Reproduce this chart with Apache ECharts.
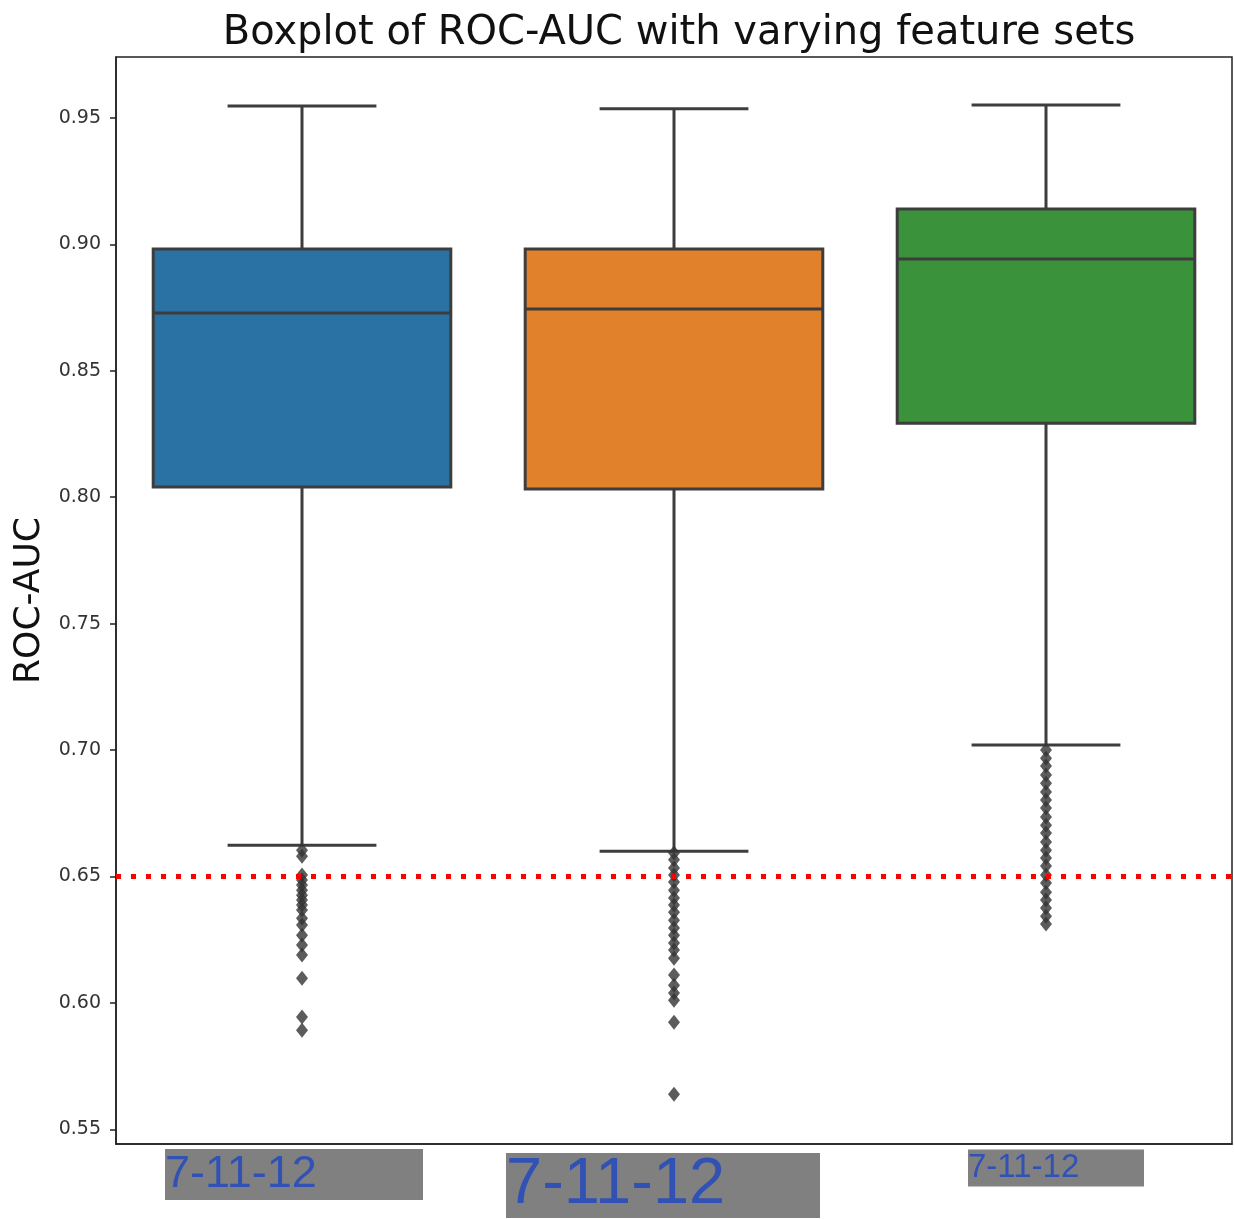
<!DOCTYPE html>
<html>
<head>
<meta charset="utf-8">
<title>Boxplot of ROC-AUC</title>
<script src="https://cdn.jsdelivr.net/npm/echarts@6/dist/echarts.min.js"></script>
<style>
  html, body { margin: 0; padding: 0; background: #ffffff; }
  #chart { width: 1234px; height: 1219px; }
</style>
</head>
<body>
<div id="chart"></div>
<script>
// Feature-set labels along the x axis
const categories = ['7-11-12', '7-11-12', '7-11-12'];

// Five-number summaries of ROC-AUC per feature set
const whiskerLow  = [0.6624, 0.6600, 0.7020];
const quartile1   = [0.8040, 0.8032, 0.8293];
const medians     = [0.8729, 0.8744, 0.8942];
const quartile3   = [0.8982, 0.8982, 0.9140];
const whiskerHigh = [0.9547, 0.9536, 0.9551];

// Outlying runs below the lower whisker
const outliersSet1 = [0.6604, 0.6580, 0.6506, 0.6486, 0.6466, 0.6446, 0.6426, 0.6407,
  0.6387, 0.6367, 0.6335, 0.6308, 0.6268, 0.6229, 0.6189, 0.6098, 0.5944, 0.5892];
const outliersSet2 = [0.6593, 0.6566, 0.6534, 0.6506, 0.6478, 0.6446, 0.6415, 0.6387,
  0.6359, 0.6327, 0.6296, 0.6268, 0.6237, 0.6209, 0.6177, 0.6110, 0.6070, 0.6039,
  0.6011, 0.5924, 0.5639];
const outliersSet3 = [0.7000, 0.6968, 0.6937, 0.6901, 0.6869, 0.6834, 0.6802, 0.6771,
  0.6735, 0.6703, 0.6672, 0.6636, 0.6604, 0.6573, 0.6541, 0.6506, 0.6474, 0.6438,
  0.6407, 0.6375, 0.6343, 0.6312];

// Reference threshold
const threshold = 0.65;

// Y tick values
const yTicks = [0.55, 0.60, 0.65, 0.70, 0.75, 0.80, 0.85, 0.90, 0.95];

const boxColors = ['#2a72a3', '#e1812c', '#3a923a'];
const edgeColor = '#3d3d3d';

const boxData = categories.map((c, i) => [i, whiskerLow[i], quartile1[i], medians[i], quartile3[i], whiskerHigh[i]]);
const outlierData = [];
[outliersSet1, outliersSet2, outliersSet3].forEach((set, i) => set.forEach(v => outlierData.push([i, v])));

const gridLeft = 116, gridRight = 2, gridTop = 57, gridBottom = 75;

function renderBox(params, api) {
  const x = api.value(0);
  const pLow = api.coord([x, api.value(1)]);
  const pQ1 = api.coord([x, api.value(2)]);
  const pMed = api.coord([x, api.value(3)]);
  const pQ3 = api.coord([x, api.value(4)]);
  const pHigh = api.coord([x, api.value(5)]);
  const bw = api.size([1, 0])[0] * 0.8;
  const cx = pMed[0];
  const line = { stroke: edgeColor, lineWidth: 3 };
  return {
    type: 'group',
    children: [
      { type: 'line', shape: { x1: cx, y1: pLow[1], x2: cx, y2: pQ1[1] }, style: line },
      { type: 'line', shape: { x1: cx, y1: pQ3[1], x2: cx, y2: pHigh[1] }, style: line },
      { type: 'line', shape: { x1: cx - bw / 4, y1: pLow[1], x2: cx + bw / 4, y2: pLow[1] }, style: line },
      { type: 'line', shape: { x1: cx - bw / 4, y1: pHigh[1], x2: cx + bw / 4, y2: pHigh[1] }, style: line },
      { type: 'rect', shape: { x: cx - bw / 2, y: pQ3[1], width: bw, height: pQ1[1] - pQ3[1] },
        style: { fill: boxColors[params.dataIndex], stroke: edgeColor, lineWidth: 3 } },
      { type: 'line', shape: { x1: cx - bw / 2, y1: pMed[1], x2: cx + bw / 2, y2: pMed[1] }, style: line }
    ]
  };
}

const labelFont = 'Liberation Sans, Arial, sans-serif';
const option = {
  animation: false,
  backgroundColor: '#ffffff',
  title: {
    text: 'Boxplot of ROC-AUC with varying feature sets',
    left: gridLeft + (1234 - gridLeft - gridRight) / 2,
    textAlign: 'center',
    top: 9,
    textStyle: { fontFamily: 'DejaVu Sans', fontSize: 40, fontWeight: 'normal', color: '#111111' }
  },
  grid: {
    left: gridLeft, right: gridRight, top: gridTop, bottom: gridBottom,
    outerBoundsMode: 'none',
    containLabel: false,
    show: true, borderColor: '#222222', borderWidth: 1.5, backgroundColor: '#ffffff'
  },
  xAxis: {
    type: 'category',
    data: categories,
    boundaryGap: true,
    axisLine: { lineStyle: { color: '#222222', width: 1.5 } },
    axisTick: { alignWithLabel: true, length: 6, lineStyle: { color: '#222222', width: 1.5 } },
    splitLine: { show: false },
    axisLabel: {
      margin: 6,
      interval: 0,
      formatter: (v, i) => {
        if (i === 0) return '{t0|' + v + '}{s0| }';
        if (i === 1) return '{g1| }\n{t1|' + v + '}{s1| }';
        return '{s2| }{t2|' + v + '}';
      },
      rich: {
        t0: { fontFamily: labelFont, fontSize: 45, color: '#3152b4', backgroundColor: '#808080',
              width: 258, height: 51, lineHeight: 49, align: 'left' },
        s0: { width: 16, fontSize: 10, align: 'left' },
        g1: { height: 4, lineHeight: 4, fontSize: 4, align: 'left' },
        t1: { fontFamily: labelFont, fontSize: 65, color: '#3152b4', backgroundColor: '#808080',
              width: 314, height: 65, lineHeight: 63, align: 'left' },
        s1: { width: 22, fontSize: 10, align: 'left' },
        t2: { fontFamily: labelFont, fontSize: 33, color: '#3152b4', backgroundColor: '#808080',
              width: 176, height: 37, lineHeight: 36, align: 'left' },
        s2: { width: 20, fontSize: 10, align: 'left' }
      }
    }
  },
  yAxis: {
    type: 'value',
    min: 0.5442,
    max: 0.9741,
    name: 'ROC-AUC',
    nameLocation: 'middle',
    nameGap: 66,
    nameRotate: 90,
    nameTextStyle: { fontFamily: 'DejaVu Sans', fontSize: 36, color: '#111111' },
    axisLine: { show: true, lineStyle: { color: '#222222', width: 1.5 } },
    axisTick: { show: true, length: 6, customValues: yTicks, lineStyle: { color: '#222222', width: 1.5 } },
    splitLine: { show: false },
    axisLabel: {
      customValues: yTicks,
      margin: 15,
      fontFamily: 'DejaVu Sans',
      fontSize: 19,
      color: '#333333',
      formatter: v => v.toFixed(2)
    }
  },
  series: [
    {
      type: 'custom',
      renderItem: renderBox,
      data: boxData,
      encode: { x: 0, y: [1, 2, 3, 4, 5] },
      z: 2
    },
    {
      type: 'scatter',
      data: outlierData,
      symbol: 'diamond',
      symbolSize: [12, 15],
      itemStyle: { color: '#333333' },
      z: 3,
      markLine: {
        silent: true,
        symbol: 'none',
        label: { show: false },
        lineStyle: { color: '#ff0000', width: 5, type: [5, 10], opacity: 1 },
        data: [{ yAxis: threshold }],
        z: 5
      }
    }
  ]
};

const chart = echarts.init(document.getElementById('chart'), null, { renderer: 'canvas' });
chart.setOption(option);
</script>
</body>
</html>
